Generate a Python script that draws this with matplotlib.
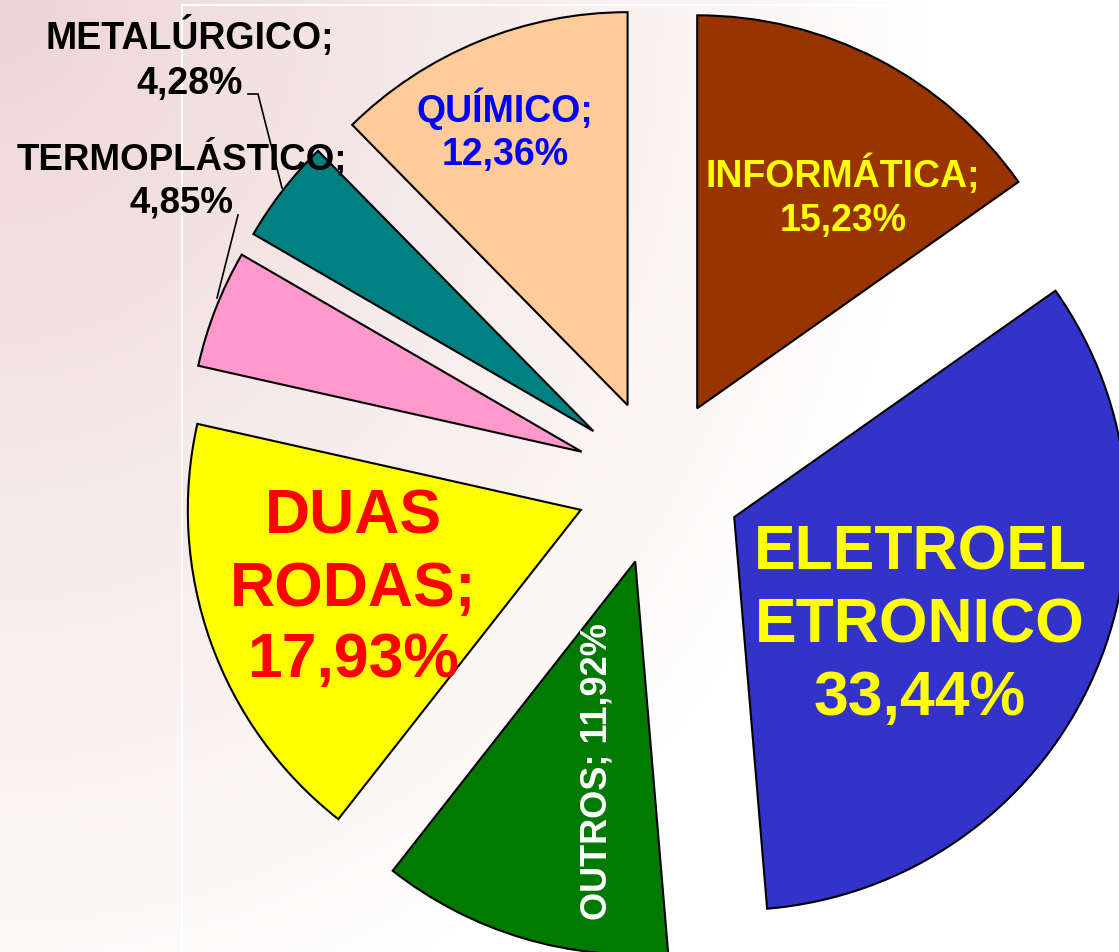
import numpy as np
import matplotlib.pyplot as plt
from matplotlib.patches import Rectangle

plt.rcParams['font.family'] = ['Liberation Sans', 'DejaVu Sans']

# data: clockwise from 12 o'clock
sectors = ["INFORMÁTICA", "ELETROELETRONICO", "OUTROS", "DUAS RODAS",
           "TERMOPLÁSTICO", "METALÚRGICO", "QUÍMICO"]
shares = [15.23, 33.44, 11.92, 17.93, 4.85, 4.28, 12.36]
share_labels = ["15,23%", "33,44%", "11,92%", "17,93%", "4,85%", "4,28%", "12,36%"]
colors = ["#993300", "#3333CC", "#007A00", "#FFFF00", "#FF99CC", "#008080", "#FFCC99"]

W, H = 1119, 952
fig = plt.figure(figsize=(W / 100, H / 100), dpi=100)
ax = fig.add_axes([0, 0, 1, 1])

# faint pinkish background fading to white
yy, xx = np.mgrid[0:H, 0:W]
t = np.clip(np.hypot(xx / 1.0, yy / 1.15) / 950, 0, 1) ** 0.9
pink = np.array([0.93, 0.83, 0.83])
white = np.array([1.0, 1.0, 1.0])
bg = pink[None, None, :] * (1 - t[..., None]) + white[None, None, :] * t[..., None]
ax.imshow(bg, extent=(0, W, 0, H), origin="upper", zorder=0)
ax.add_patch(Rectangle((182, -20), W, H - 5 + 20, fill=False, edgecolor="white", lw=1.5, zorder=1))

R = 393
wedges, _ = ax.pie(shares, colors=colors, startangle=90, counterclock=False,
                   center=(659, H - 482), radius=R, explode=[83] * len(shares),
                   wedgeprops=dict(edgecolor="black", linewidth=1.5))
for w in wedges:
    w.set_zorder(2)

ax.set_xlim(0, W)
ax.set_ylim(0, H)
ax.set_aspect("equal")
ax.axis("off")

def put(x, y, s, color, size, **kw):
    ax.text(x, H - y, s, color=color, fontsize=size, fontweight="bold",
            ha="center", va="center", zorder=5, **kw)

put(843, 197, f"{sectors[0]};\n{share_labels[0]}", "#FFFF00", 27, linespacing=1.3)
put(920, 626, f"ELETROEL\nETRONICO\n{share_labels[1]}", "#FFFF00", 45, linespacing=1.3)
put(597, 772, f"{sectors[2]}; {share_labels[2]}", "white", 26, rotation=90)
put(353, 589, f"DUAS\nRODAS;\n{share_labels[3]}", "#FF0000", 45, linespacing=1.28)
put(182, 180, f"{sectors[4]};\n{share_labels[4]}", "black", 26.5, linespacing=1.3)
put(190, 59, f"{sectors[5]};\n{share_labels[5]}", "black", 27, linespacing=1.3)
put(505, 130, f"{sectors[6]};\n{share_labels[6]}", "#0000FF", 27, linespacing=1.25)

# leader lines
ax.plot([248, 258, 282], [H - 94, H - 94, H - 188], color="black", lw=1.2, zorder=4)
ax.plot([238, 217], [H - 215, H - 298], color="black", lw=1.2, zorder=4)

fig.savefig("out.png", dpi=100)
